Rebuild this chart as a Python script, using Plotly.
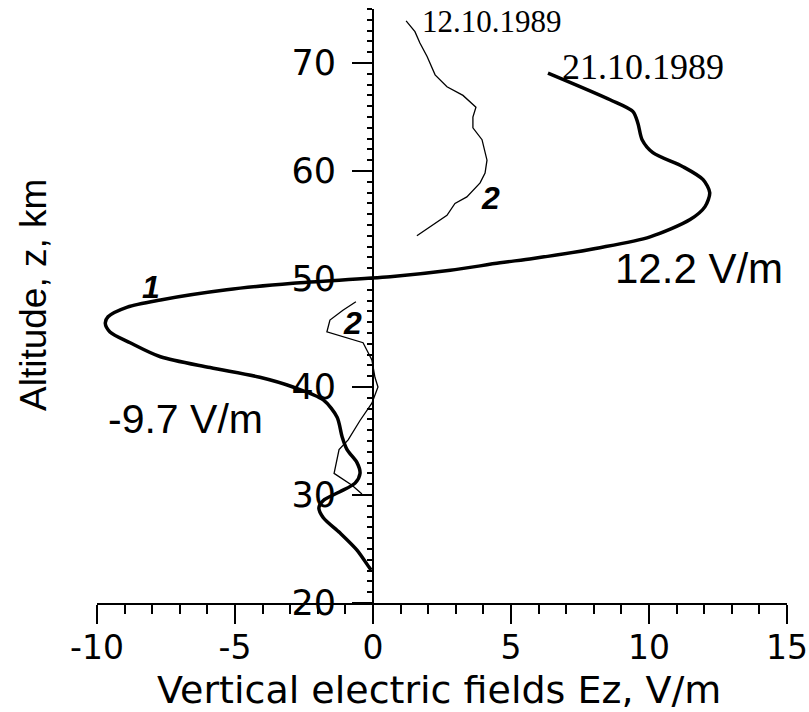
import plotly.graph_objects as go

# ---- data ----
# Curve 1: 21.10.1989 (thick)
ez_1 = [6.34, 8.59, 9.42, 9.6, 9.75, 10.14, 11.23, 11.96, 12.2, 12.03, 11.49, 10.04,
        8.22, 5.8, 4.6, 2.8, 0.62, -2.9, -5.3, -7.7, -8.9, -9.6, -9.7, -9.53, -8.8,
        -7.7, -5.9, -4.1, -2.9, -1.8, -1.3, -1.12, -0.94, -0.58, -0.47, -0.65, -1.2,
        -1.8, -1.96, -1.8, -1.2, -0.58, -0.14, -0.07]
z_1 = [69.07, 66.6, 65.5, 64.4, 62.9, 61.7, 60.4, 59.2, 58.0, 56.7, 55.5, 53.9,
       52.9, 51.9, 51.5, 50.8, 50.2, 49.6, 49.0, 48.06, 47.4, 46.5, 45.9, 45.1, 44.1,
       42.8, 41.8, 40.9, 40.0, 38.8, 37.2, 35.4, 34.2, 33.0, 32.0, 31.1, 30.3,
       29.5, 28.8, 27.9, 26.5, 24.9, 23.3, 23.05]

# Curve 2: 12.10.1989 (thin), upper part
ez_2_upper = [1.2, 1.52, 1.7, 1.96, 2.25, 2.68, 3.26, 3.73, 3.62, 3.62, 3.95, 4.13,
              4.06, 3.88, 3.4, 2.97, 2.68, 2.17, 1.59]
z_2_upper = [73.9, 72.9, 71.85, 70.6, 68.9, 67.8, 67.0, 65.9, 65.0, 64.0, 62.9, 61.0,
             59.8, 58.9, 57.6, 57.0, 55.9, 55.0, 54.0]
# Curve 2: lower part
ez_2_lower = [-0.62, -1.09, -1.56, -1.67, -0.36, -0.04, 0.07, 0.18, -0.04, -0.47,
              -0.9, -1.23, -1.41, -0.76, -0.4]
z_2_lower = [47.9, 47.1, 46.2, 45.1, 44.1, 42.5, 40.9, 40.0, 38.5, 36.9,
             35.1, 34.2, 32.0, 30.9, 30.1]

x_tick_vals = [-10, -5, 0, 5, 10, 15]
x_tick_text = ["-10", "-5", "0", "5", "10", "15"]
y_tick_vals = [20, 30, 40, 50, 60, 70]
y_tick_text = ["20", "30", "40", "50", "60", "70"]

x_title = "Vertical electric fields Ez, V/m"
y_title = "Altitude, z, km"

fig = go.Figure()
fig.add_trace(go.Scatter(x=ez_1, y=z_1, mode="lines",
                         line=dict(color="black", width=3.5, shape="spline", smoothing=0.8),
                         showlegend=False, hoverinfo="skip"))
fig.add_trace(go.Scatter(x=ez_2_upper, y=z_2_upper, mode="lines",
                         line=dict(color="black", width=1.3),
                         showlegend=False, hoverinfo="skip"))
fig.add_trace(go.Scatter(x=ez_2_lower, y=z_2_lower, mode="lines",
                         line=dict(color="black", width=1.3),
                         showlegend=False, hoverinfo="skip"))

x_tick_font = dict(family="DejaVu Sans", size=33, color="black")
y_tick_font = dict(family="DejaVu Sans", size=35, color="black")

fig.update_layout(
    width=809, height=712,
    margin=dict(l=97, r=22, t=9, b=109, pad=0),
    paper_bgcolor="white", plot_bgcolor="white",
    showlegend=False,
    xaxis=dict(
        range=[-10, 15], tickmode="array", tickvals=x_tick_vals, ticktext=x_tick_text,
        ticks="outside", ticklen=19, tickwidth=2, tickcolor="black",
        showline=True, linecolor="black", linewidth=2,
        showgrid=False, zeroline=False, automargin=False,
        minor=dict(tickmode="linear", tick0=-10, dtick=1, ticks="outside", ticklen=9,
                   tickwidth=1.5, tickcolor="black", showgrid=False),
        tickfont=x_tick_font, ticklabelstandoff=-5, ticklabeloverflow="allow",
    ),
    yaxis=dict(
        range=[20, 75], anchor="free", position=0.4, side="left",
        tickmode="array", tickvals=y_tick_vals, ticktext=y_tick_text,
        ticks="outside", ticklen=20, tickwidth=2, tickcolor="black",
        showline=True, linecolor="black", linewidth=2,
        showgrid=False, zeroline=False, automargin=False,
        minor=dict(tickmode="linear", tick0=20, dtick=1, ticks="outside", ticklen=5,
                   tickwidth=1.5, tickcolor="black", showgrid=False),
        tickfont=y_tick_font, ticklabelstandoff=9, ticklabeloverflow="allow",
    ),
)

annots = [
    dict(x=0.495, y=-0.1465, xref="paper", yref="paper", text=x_title,
         font=dict(family="DejaVu Sans", size=38, color="black"),
         showarrow=False, xanchor="center", yanchor="middle"),
    dict(x=-0.0928, y=0.5185, xref="paper", yref="paper", text=y_title, textangle=-90,
         font=dict(family="Liberation Sans", size=37, color="black"),
         showarrow=False, xanchor="center", yanchor="middle"),
    dict(x=1.70, y=73.8, text="12.10.1989", xanchor="left", yanchor="middle",
         font=dict(family="Liberation Serif", size=31, color="black"), showarrow=False),
    dict(x=6.78, y=69.6, text="21.10.1989", xanchor="left", yanchor="middle",
         font=dict(family="Liberation Serif", size=36, color="black"), showarrow=False),
    dict(x=11.81, y=50.93, text="12.2 V/m", xanchor="center", yanchor="middle",
         font=dict(family="Liberation Sans", size=42, color="black"), showarrow=False),
    dict(x=-6.81, y=37.04, text="-9.7 V/m", xanchor="center", yanchor="middle",
         font=dict(family="Liberation Sans", size=41, color="black"), showarrow=False),
    dict(x=-8.04, y=49.26, text="<b><i>1</i></b>", xanchor="center", yanchor="middle",
         font=dict(family="Liberation Sans", size=32, color="black"), showarrow=False),
    dict(x=4.24, y=57.5, text="<b><i>2</i></b>", xanchor="center", yanchor="middle",
         font=dict(family="Liberation Sans", size=32, color="black"), showarrow=False),
    dict(x=-0.76, y=45.93, text="<b><i>2</i></b>", xanchor="center", yanchor="middle",
         font=dict(family="Liberation Sans", size=32, color="black"), showarrow=False),
]
fig.update_layout(annotations=annots)

fig.write_html("out.html")
